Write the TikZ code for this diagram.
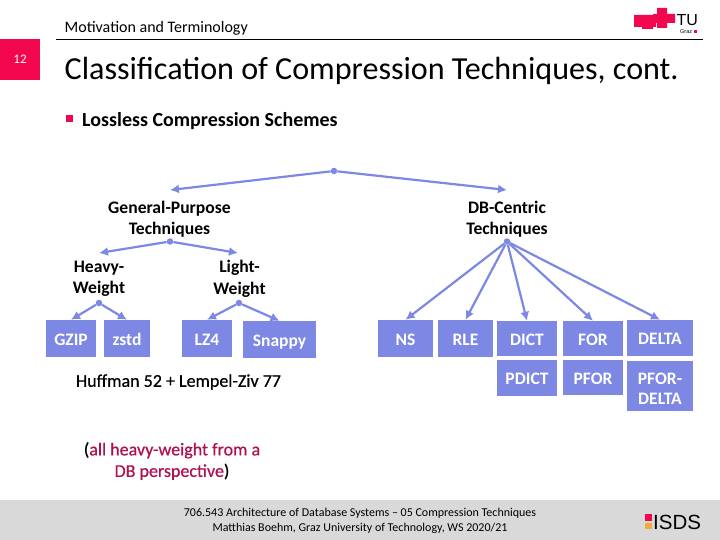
\documentclass[tikz,border=0pt]{standalone}
\usepackage{fontspec}
\setmainfont{Carlito}
\newfontfamily\logofont{Liberation Sans}
\newfontfamily\semifont[FakeBold=0.6]{Carlito}
\usetikzlibrary{arrows.meta}
\definecolor{boxblue}{HTML}{7C88E4}
\definecolor{tured}{HTML}{F2074E}
\definecolor{darkred}{HTML}{B0104F}
\definecolor{footgray}{HTML}{D9D9D9}
\definecolor{isdsor}{HTML}{F5A93C}
\tikzset{
 x=1pt,y=-1pt,
 boxn/.style={fill=boxblue,text=white,font=\fontsize{17.5}{20}\selectfont\bfseries,inner sep=0pt,align=center,minimum width=#1},
 boxn/.default=50pt,
 onel/.style={text height=16pt,text depth=3pt},
 lbl/.style={font=\fontsize{17.6}{21.5}\selectfont\bfseries,align=center,inner sep=0pt,text width=150pt},
 dotn/.style={circle,fill=boxblue,inner sep=0pt,minimum size=6.5pt},
 conn/.style={draw=boxblue,line width=2.2pt,-{Latex[length=9pt,width=9pt]}},
}
\begin{document}
\begin{tikzpicture}
\useasboundingbox (0,0) rectangle (720,540);
\fill[white] (0,0) rectangle (720,540);
% header
\draw[black,line width=0.7pt] (56,39.5) -- (703,39.5);
\node[anchor=west,inner sep=0pt,font=\fontsize{16}{18}\selectfont] (sec) at (64.5,28) {Motivation and Terminology};
\node[fill=tured,minimum width=40pt,minimum height=41pt,inner sep=0pt,text=white,font=\fontsize{13}{14}\selectfont] (pg) at (20,59.5) {12};
\node[anchor=west,inner sep=0pt,font=\fontsize{32.1}{36}\selectfont] (title) at (64.5,71) {Classification of Compression Techniques, cont.};
\fill[tured] (66,115.5) rectangle (73,122.5);
\node[anchor=west,inner sep=0pt,font=\fontsize{20}{24}\selectfont\bfseries] (sub) at (82,121) {Lossless Compression Schemes};
% logo
\fill[tured] (634,15) rectangle (656,27) (642,19) rectangle (653,29);
\fill[tured] (657,8) rectangle (667,28) (653,14) rectangle (675,23);
\node[anchor=west,inner sep=0pt,font=\logofont\fontsize{16}{16}\selectfont] (tu) at (676.5,20) {TU};
\node[anchor=west,inner sep=0pt,font=\logofont\fontsize{5.5}{6}\selectfont] (gr) at (680,31.5) {Graz};
\fill[tured] (693.5,30.5) rectangle (697,33);
% nodes
\node[dotn] (root) at (334,171) {};
\coordinate (gpin) at (170,190);
\coordinate (dbin) at (507,190);
\node[lbl] (gp) at (169.5,219) {General-Purpose\\Techniques};
\node[lbl] (db) at (507,219) {DB-Centric\\Techniques};
\node[dotn] (gpd) at (170,241.5) {};
\node[dotn] (dbd) at (507,241.5) {};
\coordinate (hvin) at (99,253);
\coordinate (ltin) at (238,253);
\node[lbl] (hv) at (99,279) {Heavy-\\Weight};
\node[lbl] (lt) at (239.5,279) {Light-\\Weight};
\node[dotn] (hvd) at (99,303) {};
\node[dotn] (ltd) at (239,303) {};
\node[boxn=50pt,onel,minimum height=37pt] (gzip) at (71,338.5) {GZIP};
\node[boxn=46pt,onel,minimum height=37pt] (zstd) at (127,338.5) {zstd};
\node[boxn=50pt,onel,minimum height=37pt] (lz) at (207,338.5) {LZ4};
\node[boxn=73pt,onel,minimum height=37pt] (snappy) at (279.5,339.5) {Snappy};
\node[boxn=55pt,onel,minimum height=37pt] (ns) at (405.5,338.5) {NS};
\node[boxn=55pt,onel,minimum height=37pt] (rle) at (465.5,338.5) {RLE};
\node[boxn=60pt,onel,minimum height=35pt] (dict) at (527,338.5) {DICT};
\node[boxn=60pt,onel,minimum height=35pt] (for) at (593,338.5) {FOR};
\node[boxn=66pt,onel,minimum height=36pt] (delta) at (660,338) {DELTA};
\node[boxn=60pt,onel,minimum height=36pt] (pdict) at (527,378) {PDICT};
\node[boxn=60pt,onel,minimum height=35pt] (pfor) at (593,377.5) {PFOR};
\node[boxn=66pt,minimum height=50pt] (pfd) at (660,386) {\rule{0pt}{17pt}PFOR-\\DELTA};
\node[anchor=center,inner sep=0pt,font=\semifont\fontsize{18}{20}\selectfont] (huff) at (178.5,382) {Huffman 52 + Lempel-Ziv 77};
\node[align=center,inner sep=0pt,font=\semifont\fontsize{18}{21.5}\selectfont] (note) at (172,461) {(\textcolor{darkred}{all heavy-weight from a}\\\textcolor{darkred}{DB perspective})};
% connectors
\draw[conn] (root) -- (gpin);
\draw[conn] (root) -- (dbin);
\draw[conn] (gpd) -- (hvin);
\draw[conn] (gpd) -- (ltin);
\draw[conn] (hvd) -- (gzip.north);
\draw[conn] (hvd) -- (zstd.north);
\draw[conn] (ltd) -- (lz.north);
\draw[conn] (ltd) -- (snappy.north);
\draw[conn] (dbd) -- (ns.north);
\draw[conn] (dbd) -- (rle.north);
\draw[conn] (dbd) -- (dict.north);
\draw[conn] (dbd) -- (for.north);
\draw[conn] (dbd) -- (delta.north);
% footer
\fill[footgray] (0,500) rectangle (720,540);
\node[align=center,inner sep=0pt,font=\fontsize{12}{14.5}\selectfont] (foot) at (360,521) {706.543 Architecture of Database Systems -- 05 Compression Techniques\\Matthias Boehm, Graz University of Technology, WS 2020/21};
\fill[tured] (645,514) rectangle (652,521);
\fill[isdsor] (645,523) rectangle (652,529);
\node[anchor=west,inner sep=0pt,font=\logofont\fontsize{20.5}{21}\selectfont] (isds) at (653,522) {ISDS};
\end{tikzpicture}
\end{document}
